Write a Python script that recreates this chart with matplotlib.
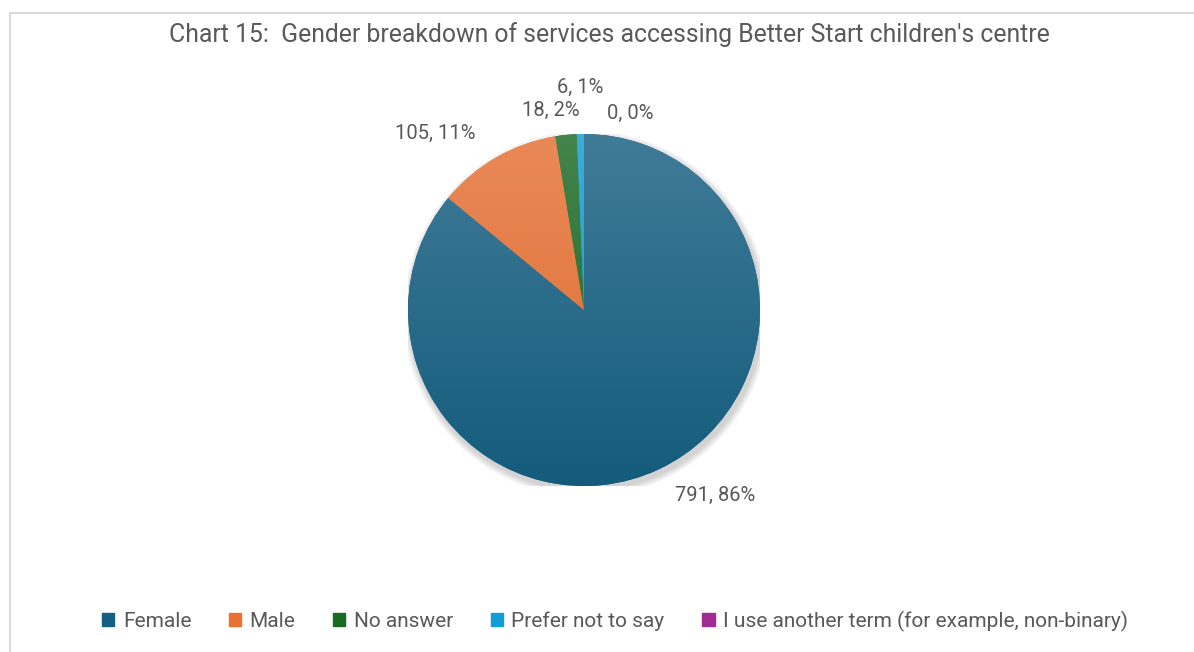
import numpy as np
import matplotlib
matplotlib.use("Agg")
import matplotlib.pyplot as plt
from matplotlib.patches import Rectangle, Circle
from matplotlib.colors import to_rgb

categories = ["Female", "Male", "No answer", "Prefer not to say",
              "I use another term (for example, non-binary)"]
counts = [791, 105, 18, 6, 0]
colors = ["#156082", "#E97132", "#196B24", "#0F9ED5", "#A02B93"]
# where each "count, pct" label sits, in pie radius units
label_pos = [(0.744, -1.051), (-0.847, 1.006), (-0.19, 1.136),
             (-0.023, 1.267), (0.261, 1.119)]

plt.rcParams["font.family"] = ["Roboto", "DejaVu Sans"]
txt = "#595959"

fig = plt.figure(figsize=(11.94, 6.52), dpi=100)
fig.patches.append(Rectangle((10 / 1194, -0.1), 1.2, (652 - 13) / 652 + 0.1,
                             transform=fig.transFigure, fill=False,
                             edgecolor="#D9D9D9", linewidth=1.5))

fig.text(0.51, 1 - 35 / 652, "Chart 15:  Gender breakdown of services accessing Better Start children's centre",
         ha="center", va="center", fontsize=17.8, color=txt)

# pie axes: centre at (584, 310) px, radius 176 px
ax = fig.add_axes([(584 - 176) / 1194, (652 - 486) / 652, 352 / 1194, 352 / 652])

# soft shadow under the pie, towards the lower right
for i in range(5):
    r = 1.0 + 0.008 * (i + 1)
    ax.add_patch(Circle((0.012, -0.022), r, color="black", alpha=0.035, lw=0, zorder=0))

total = sum(counts)
wedges, _ = ax.pie(counts, startangle=90, counterclock=False, radius=1.0,
                   colors=colors, wedgeprops=dict(linewidth=0))
ax.set_xlim(-1, 1)
ax.set_ylim(-1, 1)
ax.axis("off")

# vertical gradient fill, lighter at the top
yy = np.linspace(1, 0, 256)[:, None]
for w, c in zip(wedges, colors):
    base = np.array(to_rgb(c)) * 0.95
    top = np.array(to_rgb(c)) * 0.8 + np.array([0.92, 0.92, 0.94]) * 0.2
    grad = top[None, None, :] * yy[..., None] + base[None, None, :] * (1 - yy[..., None])
    grad = np.repeat(grad, 2, axis=1)
    im = ax.imshow(grad, extent=[-1, 1, -1, 1], origin="upper", zorder=2,
                   interpolation="bilinear", aspect="auto")
    im.set_clip_path(w)
    w.set_zorder(1)

for n, (x, y) in zip(counts, label_pos):
    pct = round(100 * n / total)
    ax.text(x, y, f"{n}, {pct}%", ha="center", va="center", fontsize=14.5, color=txt)

handles = [Rectangle((0, 0), 1, 1, color=c) for c in colors]
fig.legend(handles, categories, loc="center", bbox_to_anchor=(0.515, 1 - 621 / 652),
           ncol=5, frameon=False, fontsize=15, labelcolor=txt,
           handlelength=0.6, handleheight=0.6, handletextpad=0.4, columnspacing=1.8)

fig.savefig("out.png", dpi=100)
